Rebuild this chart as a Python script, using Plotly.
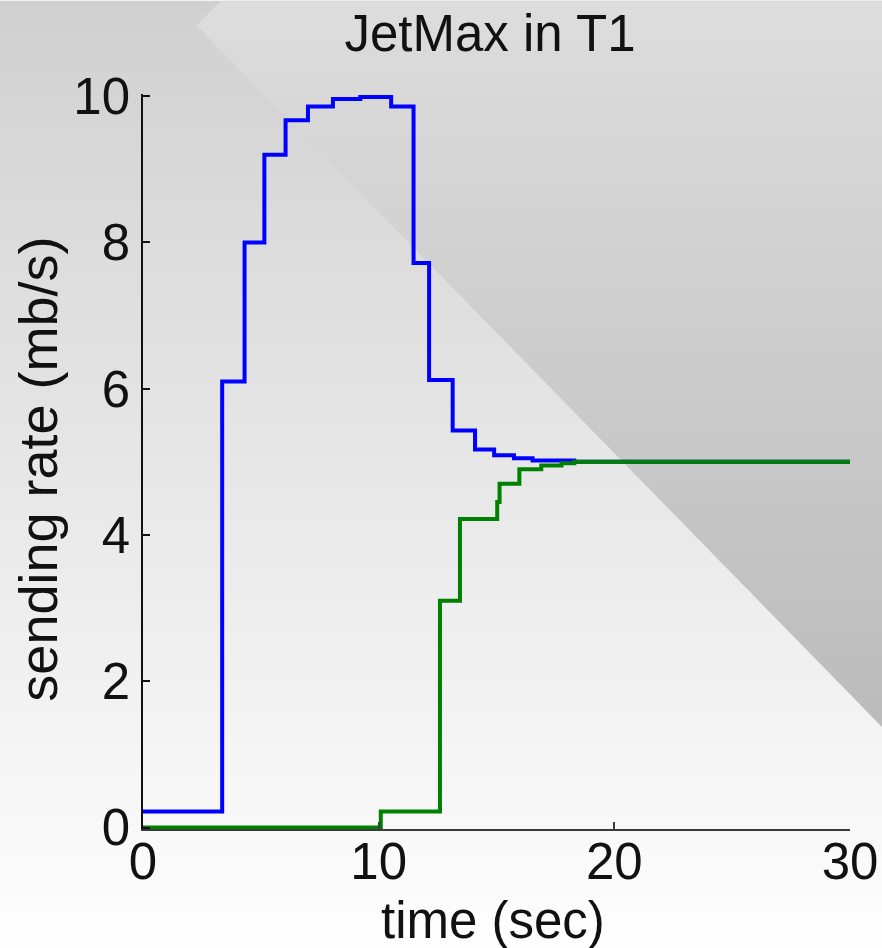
import plotly.graph_objects as go

# ---- data ----
blue_t = [0, 3.36, 4.31, 5.15, 6.05, 7.0, 8.06, 9.22, 10.53, 11.48, 12.14, 13.14, 14.09, 14.9, 15.74, 16.53, 18.3, 30]
blue_v = [0.22, 6.1, 8.0, 9.2, 9.67, 9.86, 9.96, 9.99, 9.86, 7.72, 6.12, 5.43, 5.17, 5.09, 5.05, 5.02, 5.0, 5.0]
green_t = [0, 10.09, 12.6, 13.45, 15.03, 15.13, 15.97, 16.9, 17.76, 18.3, 30]
green_v = [0.0, 0.22, 3.1, 4.22, 4.45, 4.7, 4.9, 4.95, 4.98, 5.0, 5.0]
x_ticks = [0, 10, 20, 30]
y_ticks = [0, 2, 4, 6, 8, 10]
title_text = "JetMax in T1"
x_title = "time (sec)"
y_title = "sending rate (mb/s)"

# ---- layout geometry (pixels) ----
W, H = 882, 948
L, R, T, B = 142.5, 850.5, 93.5, 829.5
PW, PH = R - L, B - T


def px(x):
    return (x - L) / PW


def py(y):
    return (B - y) / PH


def grey(v):
    v = int(round(v))
    return f"rgb({v},{v},{v})"


shapes = []
N = 80
# lower-left background: vertical gradient
for i in range(N):
    y0 = H * i / N
    y1 = H * (i + 1) / N + 0.8
    c = 208 + (254 - 208) * ((i + 0.5) / N)
    shapes.append(dict(type="rect", xref="paper", yref="paper", layer="below",
                       x0=px(-2), x1=px(W + 2), y0=py(y0), y1=py(y1),
                       fillcolor=grey(c), line=dict(width=0)))


# upper-right triangle boundary
def left_edge(y):
    if y < 25:
        return 220.7 - y * (24.7 / 25)
    return 196 + (y - 25) / 1.023


YEND = 25 + (W + 2 - 196) * 1.023
M = 60
for i in range(M):
    y0 = YEND * i / M
    y1 = min(YEND * (i + 1) / M + 0.8, YEND)
    c = 221 - (221 - 187) * ((i + 0.5) / M)
    ys = [y0, y1]
    if y0 < 25 < y1:
        ys = [y0, 25, y1]
    left = [(left_edge(y), y) for y in ys]
    poly = [(W + 2, y0)] + left + [(W + 2, y1)]
    path = "M " + " L ".join(f"{px(a):.5f},{py(b):.5f}" for a, b in poly) + " Z"
    shapes.append(dict(type="path", xref="paper", yref="paper", layer="below",
                       path=path, fillcolor=grey(c), line=dict(width=0)))

font_family = "Liberation Sans, Arial, sans-serif"
FS = 51

fig = go.Figure()
fig.add_trace(go.Scatter(x=blue_t, y=blue_v, mode="lines", line_shape="hv",
                         line=dict(color="#0000ff", width=4), showlegend=False))
fig.add_trace(go.Scatter(x=green_t, y=green_v, mode="lines", line_shape="hv",
                         line=dict(color="#008000", width=4), showlegend=False))

fig.update_layout(
    template="none",
    width=W, height=H,
    autosize=False,
    margin=dict(l=L, r=W - R, t=T, b=H - B, pad=0, autoexpand=False),
    paper_bgcolor="rgba(0,0,0,0)",
    plot_bgcolor="rgba(0,0,0,0)",
    font=dict(family=font_family, size=FS, color="#111111"),
    shapes=shapes,
    showlegend=False,
    title=dict(text=title_text, x=490 / W, xref="container", xanchor="center",
               y=1 - 33 / H, yref="container", yanchor="middle",
               font=dict(size=FS, color="#111111")),
    annotations=[
        dict(text=x_title, xref="paper", yref="paper", x=px(493), y=py(921),
             xanchor="center", yanchor="middle", showarrow=False,
             font=dict(size=FS, color="#111111")),
        dict(text=y_title, xref="paper", yref="paper", x=px(37), y=py(469),
             xanchor="center", yanchor="middle", showarrow=False, textangle=-90,
             font=dict(size=54, color="#111111")),
    ],
)
fig.update_xaxes(range=[0, 30], tickvals=x_ticks, ticktext=[str(v) for v in x_ticks],
                 showgrid=False, zeroline=False, showline=True, linecolor="#3a3a3a",
                 linewidth=2, ticks="inside", ticklen=7, tickwidth=1.5, tickcolor="#3a3a3a",
                 ticklabelstandoff=-13, automargin=False)
fig.update_yaxes(range=[-0.02, 10.03], tickvals=y_ticks, ticktext=[str(v) for v in y_ticks],
                 showgrid=False, zeroline=False, showline=True, linecolor="#111111",
                 linewidth=1.5, ticks="inside", ticklen=7, tickwidth=1.5, tickcolor="#111111",
                 ticklabelstandoff=1, automargin=False)

fig.write_html("out.html")
